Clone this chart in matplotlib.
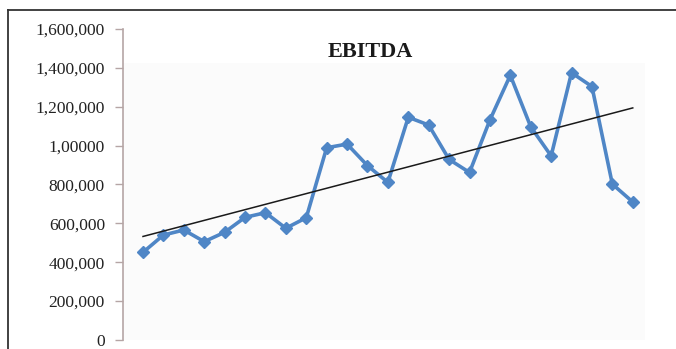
import numpy as np
import matplotlib
matplotlib.use('Agg')
import matplotlib.pyplot as plt
from matplotlib.lines import Line2D
from matplotlib.patches import Rectangle

# EBITDA by period
periods = list(range(1, 26))
ebitda = [451000, 540000, 566000, 506000, 554000, 631000, 655000, 575000, 629000,
          989000, 1008000, 897000, 811000, 1146000, 1106000, 929000, 862000,
          1132000, 1362000, 1097000, 947000, 1375000, 1304000, 802000, 710000]
y_ticks = [0, 200000, 400000, 600000, 800000, 1000000, 1200000, 1400000, 1600000]
y_tick_labels = ['0', '200,000', '400,000', '600,000', '800,000', '1,00000',
                 '1,200,000', '1,400,000', '1,600,000']

plt.rcParams['font.family'] = ['Liberation Serif', 'DejaVu Serif']

fig = plt.figure(figsize=(6.76, 3.49), dpi=100)
ax = fig.add_axes([123 / 676, 9 / 349, 522 / 676, 311 / 349])

# faint plot-area shading like the Excel chart
ax.add_patch(Rectangle((0, 0), 1, (340 - 63) / 311, transform=ax.transAxes,
                       facecolor='#fbfbfb', edgecolor='none', zorder=0))

x = np.array(periods, dtype=float)
y = np.array(ebitda, dtype=float)
ax.plot(x, y, color='#4f86c6', lw=2.6, marker='D', ms=6.5,
        markerfacecolor='#4f86c6', markeredgecolor='#4f86c6', zorder=3)

# linear trendline
slope, intercept = np.polyfit(x, y, 1)
ax.plot(x, slope * x + intercept, color='#1a1a1a', lw=1.1, zorder=4)

ax.set_xlim(periods[0] - 0.98, periods[-1] + 0.6)
ax.set_ylim(0, 1600000)
ax.set_yticks(y_ticks)
ax.set_yticklabels(y_tick_labels)
ax.set_xticks([])
ax.tick_params(axis='y', direction='out', length=6, width=1, color='#b5a5a5',
               labelsize=12.5, labelcolor='#222222', pad=7)
for s in ['top', 'right', 'bottom']:
    ax.spines[s].set_visible(False)
ax.spines['left'].set_color('#b5a5a5')
ax.spines['left'].set_linewidth(1.2)
ax.set_facecolor('white')

fig.text(370 / 676, 1 - 52 / 349, 'EBITDA', ha='center', va='center',
         fontsize=16, fontweight='bold', color='#1a1a1a')

# outer frame (top and left edges only visible)
fig.add_artist(Line2D([8 / 676, 1], [1 - 10 / 349, 1 - 10 / 349],
                      transform=fig.transFigure, color='#333333', lw=1.3))
fig.add_artist(Line2D([8 / 676, 8 / 676], [0, 1 - 10 / 349],
                      transform=fig.transFigure, color='#333333', lw=1.3))

fig.savefig('out.png', dpi=100)
